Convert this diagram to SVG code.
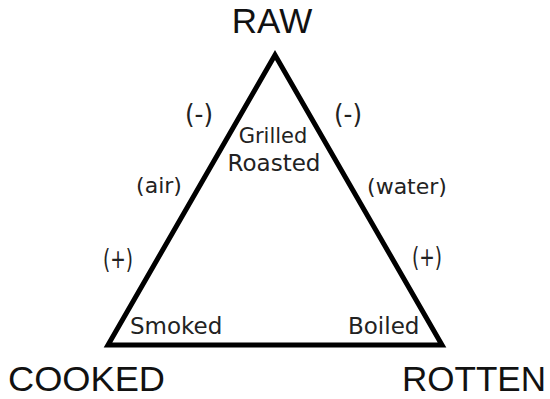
<svg xmlns="http://www.w3.org/2000/svg" width="550" height="399" viewBox="0 0 550 399">
<style>
.big{font-family:"Liberation Sans",Arial,sans-serif;font-size:35px;fill:#111;}
.sm{font-family:"DejaVu Sans",sans-serif;font-size:22px;fill:#222;}
.sign{font-family:"DejaVu Sans",sans-serif;font-size:27px;fill:#222;}
.edge{fill:none;stroke:#000;stroke-width:5;stroke-linejoin:miter;}
</style>
<rect width="550" height="399" fill="#fff"/>
<g id="connectors">
<polygon class="edge" points="275,55 108,345 442,345"/>
</g>
<g id="raw"><text class="big" x="272" y="33" text-anchor="middle">RAW</text></g>
<g id="cooked"><text class="big" x="8" y="391" textLength="157" lengthAdjust="spacingAndGlyphs">COOKED</text></g>
<g id="rotten"><text class="big" x="402" y="391" textLength="144" lengthAdjust="spacingAndGlyphs">ROTTEN</text></g>
<g id="grilled-roasted">
<text class="sm" x="273" y="143" text-anchor="middle" style="font-size:21px">Grilled</text>
<text class="sm" x="274" y="171" text-anchor="middle" style="font-size:23px">Roasted</text>
</g>
<g id="smoked"><text class="sm" x="130" y="334" style="font-size:23px">Smoked</text></g>
<g id="boiled"><text class="sm" x="348" y="334" style="font-size:23px">Boiled</text></g>
<g id="labels-left">
<text class="sign" x="185" y="123" textLength="28" lengthAdjust="spacingAndGlyphs">(-)</text>
<text class="sm" x="159" y="193" text-anchor="middle">(air)</text>
<text class="sign" x="103" y="268" textLength="30" lengthAdjust="spacingAndGlyphs">(+)</text>
</g>
<g id="labels-right">
<text class="sign" x="334" y="123" textLength="28" lengthAdjust="spacingAndGlyphs">(-)</text>
<text class="sm" x="407" y="194" text-anchor="middle">(water)</text>
<text class="sign" x="412" y="266" textLength="30" lengthAdjust="spacingAndGlyphs">(+)</text>
</g>
</svg>
